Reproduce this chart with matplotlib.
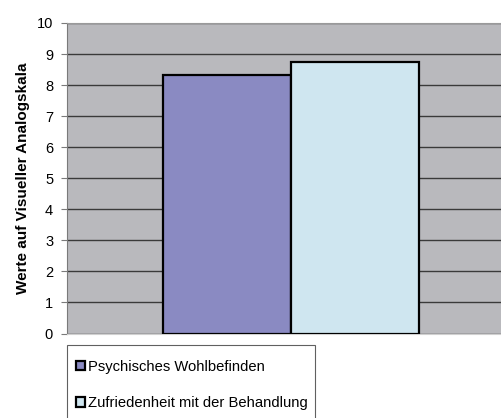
import numpy as np
import matplotlib.pyplot as plt
from matplotlib.patches import Rectangle

# Werte
labels = ['Psychisches Wohlbefinden', 'Zufriedenheit mit der Behandlung']
werte = [8.33, 8.75]
farben = ['#8A8AC2', '#CFE6F0']

plt.rcParams['font.family'] = ['Liberation Sans', 'DejaVu Sans']

fig = plt.figure(figsize=(5.02, 4.18), dpi=100)
ax = fig.add_axes([67/502, 1 - 333.5/418, 1 - 67/502, (333.5 - 23)/418])
ax.set_facecolor('#B9B9BD')

x = np.arange(len(werte))
for i in range(len(werte)):
    ax.bar(x[i], werte[i], width=1.0, color=farben[i], edgecolor='black',
           linewidth=1.6, label=labels[i], zorder=3)

ax.set_xlim(-1.25, 2.148)
ax.set_ylim(0, 10)
ax.set_yticks(range(0, 11))
ax.set_xticks([])
ax.yaxis.grid(True, color='#3a3a3a', linewidth=1.0, zorder=1)
ax.set_axisbelow(True)

ax.spines['right'].set_visible(False)
ax.spines['left'].set_color('#7a7a7a')
ax.spines['top'].set_color('#9a9a9a')
ax.spines['bottom'].set_color('#d0d0d0')
ax.tick_params(axis='y', length=4, color='#7a7a7a', labelsize=10.5, pad=6)

ax.set_ylabel('Werte auf Visueller Analogskala', fontsize=11, fontweight='bold', labelpad=5)

# Legendenrahmen
fig.patches.append(Rectangle((67/502, -0.05), (315.5 - 67)/502, 0.05 + (418 - 345)/418,
                             transform=fig.transFigure, facecolor='white',
                             edgecolor='#606060', linewidth=0.8, zorder=0))

leg = fig.legend(loc='upper left', bbox_to_anchor=(76/502, 1 - 360/418),
                 borderaxespad=0, frameon=False, fontsize=10.6,
                 handlelength=0.6, handleheight=0.6, handletextpad=0.2,
                 labelspacing=1.5, borderpad=0)

fig.savefig('out.png', dpi=100)
